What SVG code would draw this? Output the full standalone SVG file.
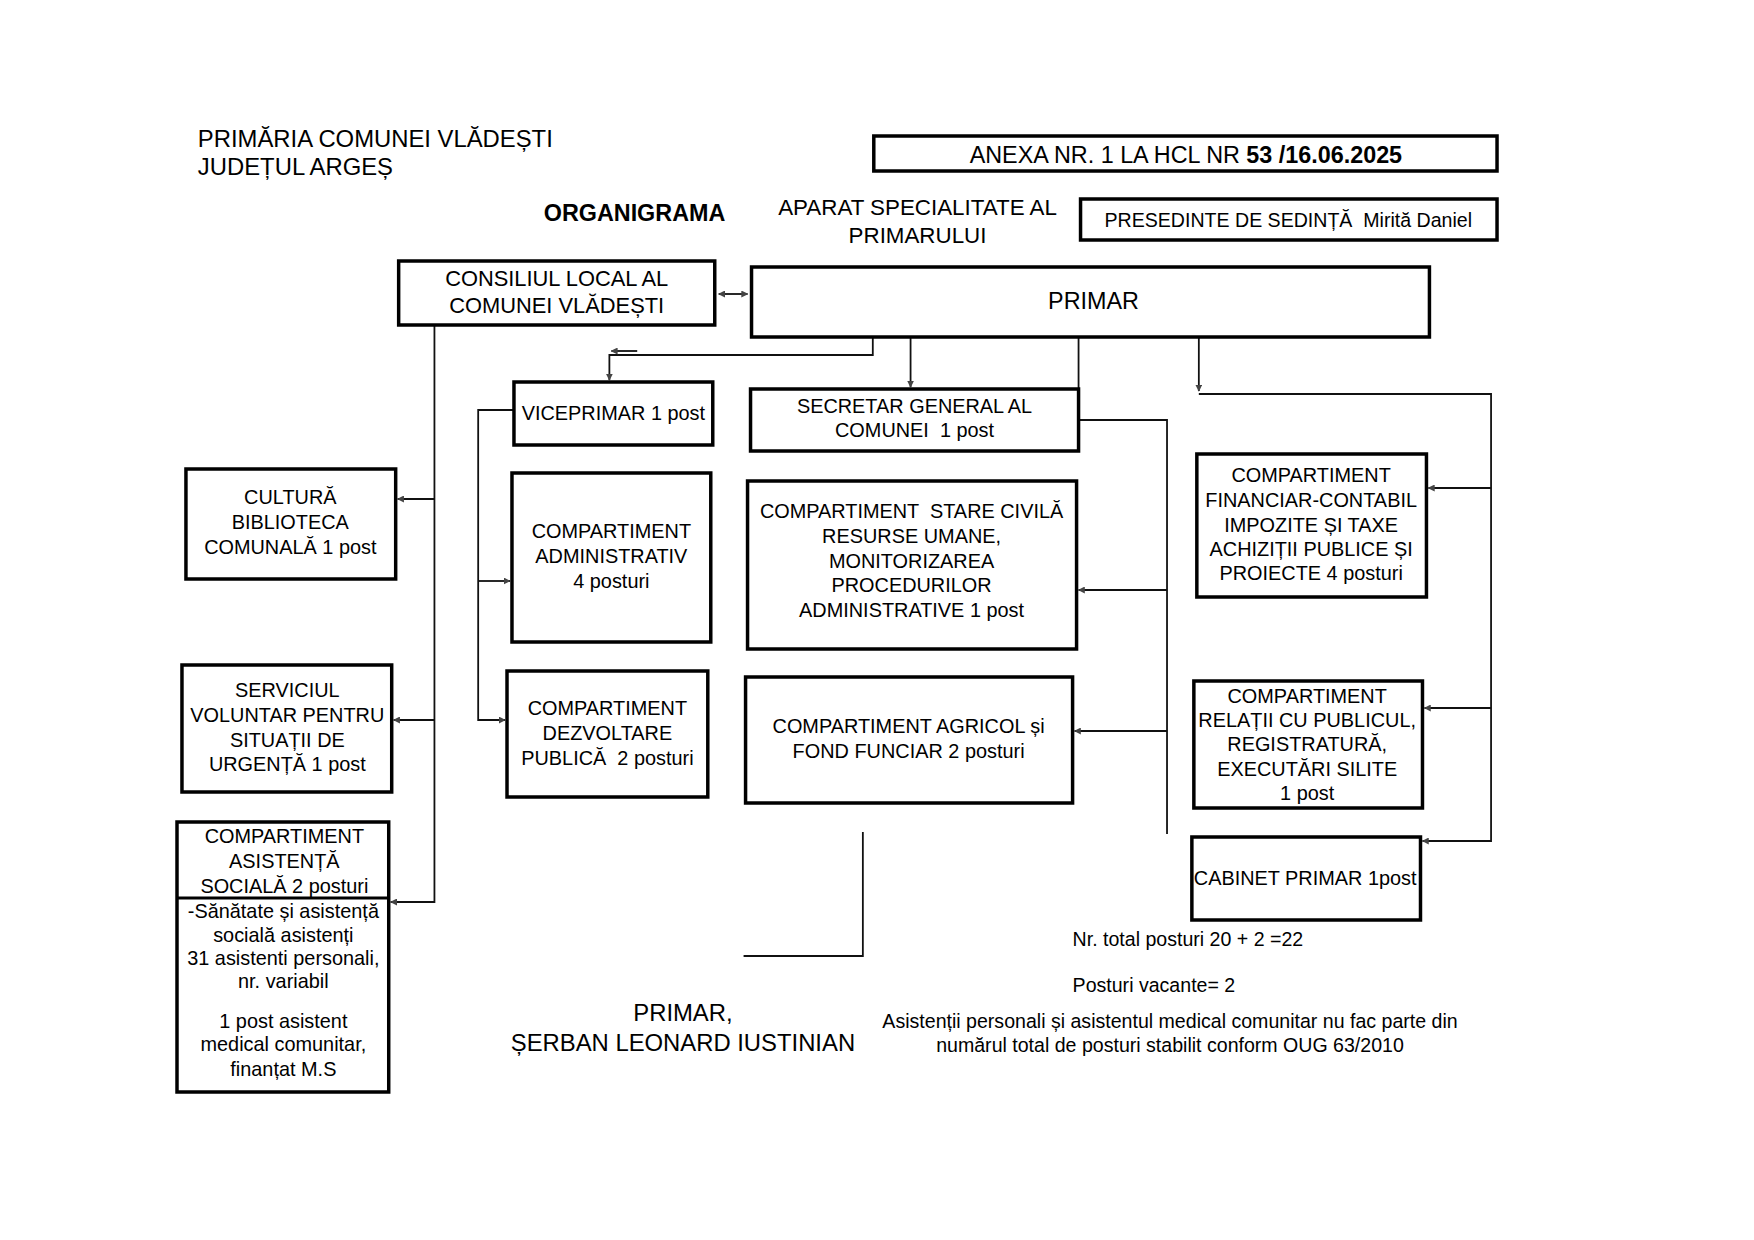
<svg xmlns="http://www.w3.org/2000/svg" width="1754" height="1240" viewBox="0 0 1754 1240">
<defs>
<style>
.box{fill:#fff;stroke:#000;stroke-width:3.5}
.t{font-family:"Liberation Sans",Arial,sans-serif;font-size:20px;fill:#000;text-anchor:middle}
.h{font-family:"Liberation Sans",Arial,sans-serif;font-size:24px;fill:#000}
.n{font-family:"Liberation Sans",Arial,sans-serif;font-size:19.7px;fill:#000}
.c{fill:none;stroke:#111;stroke-width:1.8}
</style>
<marker id="ar" viewBox="0 0 10 10" refX="9" refY="5" markerWidth="7" markerHeight="7" orient="auto-start-reverse" markerUnits="userSpaceOnUse">
<path d="M0,0 L10,5 L0,10 z" fill="#444"/>
</marker>
</defs>
<rect width="1754" height="1240" fill="#fff"/>
<g transform="matrix(0.994,0,0,1,1.06,0)">

<g id="header">
<text class="h" x="198" y="147">PRIMĂRIA COMUNEI VLĂDEȘTI</text>
<text class="h" x="198" y="175">JUDEȚUL ARGEȘ</text>
<text class="h" x="546" y="221" style="font-weight:bold;font-size:23.5px">ORGANIGRAMA</text>
<text class="h" x="922" y="215" text-anchor="middle" style="font-size:22.5px">APARAT SPECIALITATE AL</text>
<text class="h" x="922" y="243" text-anchor="middle" style="font-size:22.5px">PRIMARULUI</text>
</g>

<g id="anexa">
<rect class="box" x="878" y="136" width="627" height="35"/>
<text class="h" x="1192" y="163" text-anchor="middle" style="font-size:23.5px">ANEXA NR. 1 LA HCL NR <tspan font-weight="bold">53 /16.06.2025</tspan></text>
</g>

<g id="presedinte">
<rect class="box" x="1086" y="199" width="419" height="41"/>
<text class="h" x="1295" y="227" text-anchor="middle" style="font-size:19.7px" xml:space="preserve">PRESEDINTE DE SEDINȚĂ  Mirită Daniel</text>
</g>

<g id="connectors">
<line class="c" x1="722" y1="294" x2="751" y2="294" marker-start="url(#ar)" marker-end="url(#ar)"/>
<path class="c" d="M877,337 V355 H612 V380" marker-end="url(#ar)"/>
<path class="c" d="M640,351 H614" stroke="#777" stroke-width="1.2" marker-end="url(#ar)"/>
<path class="c" d="M915,337 V387" marker-end="url(#ar)"/>
<path class="c" d="M1084,337 V389"/>
<path class="c" d="M1084,420 H1173 V834"/>
<path class="c" d="M1173,590 H1084" marker-end="url(#ar)"/>
<path class="c" d="M1173,731 H1080" marker-end="url(#ar)"/>
<path class="c" d="M1205,337 V391" marker-end="url(#ar)"/>
<path class="c" d="M1205,394 H1499 V841 H1430" marker-end="url(#ar)"/>
<path class="c" d="M1499,488 H1436" marker-end="url(#ar)"/>
<path class="c" d="M1499,708 H1432" marker-end="url(#ar)"/>
<path class="c" d="M436,325 V902 H392" marker-end="url(#ar)"/>
<path class="c" d="M436,499 H399" marker-end="url(#ar)"/>
<path class="c" d="M436,720 H395" marker-end="url(#ar)"/>
<path class="c" d="M516,410 H480 V720 H507" marker-end="url(#ar)"/>
<path class="c" d="M480,581 H512" marker-end="url(#ar)"/>
<path class="c" d="M867,832 V956 H747"/>
</g>

<g id="consiliul">
<rect class="box" x="400" y="261" width="318" height="64"/>
<text class="t" x="559" y="286" style="font-size:22px">CONSILIUL LOCAL AL</text>
<text class="t" x="559" y="313" style="font-size:22px">COMUNEI VLĂDEȘTI</text>
</g>

<g id="primar">
<rect class="box" x="755" y="267" width="682" height="70"/>
<text class="t" x="1099" y="309" style="font-size:23.5px">PRIMAR</text>
</g>

<g id="viceprimar">
<rect class="box" x="516" y="382" width="200" height="63"/>
<text class="t" x="616" y="420">VICEPRIMAR 1 post</text>
</g>

<g id="secretar">
<rect class="box" x="754" y="389" width="330" height="62"/>
<text class="t" x="919" y="413">SECRETAR GENERAL AL</text>
<text class="t" x="919" y="437" xml:space="preserve">COMUNEI  1 post</text>
</g>

<g id="cultura">
<rect class="box" x="186" y="469" width="211" height="110"/>
<text class="t" x="291" y="504">CULTURĂ</text>
<text class="t" x="291" y="529">BIBLIOTECA</text>
<text class="t" x="291" y="554">COMUNALĂ 1 post</text>
</g>

<g id="administrativ">
<rect class="box" x="514" y="473" width="200" height="169"/>
<text class="t" x="614" y="538">COMPARTIMENT</text>
<text class="t" x="614" y="563">ADMINISTRATIV</text>
<text class="t" x="614" y="588">4 posturi</text>
</g>

<g id="stare-civila">
<rect class="box" x="751" y="481" width="331" height="168"/>
<text class="t" x="916" y="518" xml:space="preserve">COMPARTIMENT  STARE CIVILĂ</text>
<text class="t" x="916" y="543">RESURSE UMANE,</text>
<text class="t" x="916" y="568">MONITORIZAREA</text>
<text class="t" x="916" y="592">PROCEDURILOR</text>
<text class="t" x="916" y="617">ADMINISTRATIVE 1 post</text>
</g>

<g id="financiar">
<rect class="box" x="1203" y="454" width="231" height="143"/>
<text class="t" x="1318" y="482">COMPARTIMENT</text>
<text class="t" x="1318" y="507">FINANCIAR-CONTABIL</text>
<text class="t" x="1318" y="532">IMPOZITE ȘI TAXE</text>
<text class="t" x="1318" y="556">ACHIZIȚII PUBLICE ȘI</text>
<text class="t" x="1318" y="580">PROIECTE 4 posturi</text>
</g>

<g id="serviciul">
<rect class="box" x="182" y="665" width="211" height="127"/>
<text class="t" x="288" y="697">SERVICIUL</text>
<text class="t" x="288" y="722">VOLUNTAR PENTRU</text>
<text class="t" x="288" y="747">SITUAȚII DE</text>
<text class="t" x="288" y="771">URGENȚĂ 1 post</text>
</g>

<g id="dezvoltare">
<rect class="box" x="509" y="671" width="202" height="126"/>
<text class="t" x="610" y="715">COMPARTIMENT</text>
<text class="t" x="610" y="740">DEZVOLTARE</text>
<text class="t" x="610" y="765" xml:space="preserve">PUBLICĂ  2 posturi</text>
</g>

<g id="agricol">
<rect class="box" x="749" y="677" width="329" height="126"/>
<text class="t" x="913" y="733">COMPARTIMENT AGRICOL și</text>
<text class="t" x="913" y="758">FOND FUNCIAR 2 posturi</text>
</g>

<g id="relatii">
<rect class="box" x="1200" y="681" width="230" height="127"/>
<text class="t" x="1314" y="703">COMPARTIMENT</text>
<text class="t" x="1314" y="727">RELAȚII CU PUBLICUL,</text>
<text class="t" x="1314" y="751">REGISTRATURĂ,</text>
<text class="t" x="1314" y="776">EXECUTĂRI SILITE</text>
<text class="t" x="1314" y="800">1 post</text>
</g>

<g id="cabinet">
<rect class="box" x="1198" y="837" width="230" height="83"/>
<text class="t" x="1312" y="885">CABINET PRIMAR 1post</text>
</g>

<g id="asistenta">
<rect class="box" x="177" y="822" width="213" height="270"/>
<line x1="177" y1="898" x2="390" y2="898" stroke="#000" stroke-width="3"/>
<text class="t" x="285" y="843">COMPARTIMENT</text>
<text class="t" x="285" y="868">ASISTENȚĂ</text>
<text class="t" x="285" y="893">SOCIALĂ 2 posturi</text>
<text class="t" x="284" y="918">-Sănătate și asistență</text>
<text class="t" x="284" y="942">socială asistenți</text>
<text class="t" x="284" y="965">31 asistenti personali,</text>
<text class="t" x="284" y="988">nr. variabil</text>
<text class="t" x="284" y="1028">1 post asistent</text>
<text class="t" x="284" y="1051">medical comunitar,</text>
<text class="t" x="284" y="1076">finanțat M.S</text>
</g>

<g id="footer">
<text class="h" x="686" y="1021" text-anchor="middle">PRIMAR,</text>
<text class="h" x="686" y="1051" text-anchor="middle">ȘERBAN LEONARD IUSTINIAN</text>
<text class="n" x="1078" y="946">Nr. total posturi 20 + 2 =22</text>
<text class="n" x="1078" y="992">Posturi vacante= 2</text>
<text class="n" x="1176" y="1028" text-anchor="middle">Asistenții personali și asistentul medical comunitar nu fac parte din</text>
<text class="n" x="1176" y="1052" text-anchor="middle">numărul total de posturi stabilit conform OUG 63/2010</text>
</g>
</g>
</svg>
